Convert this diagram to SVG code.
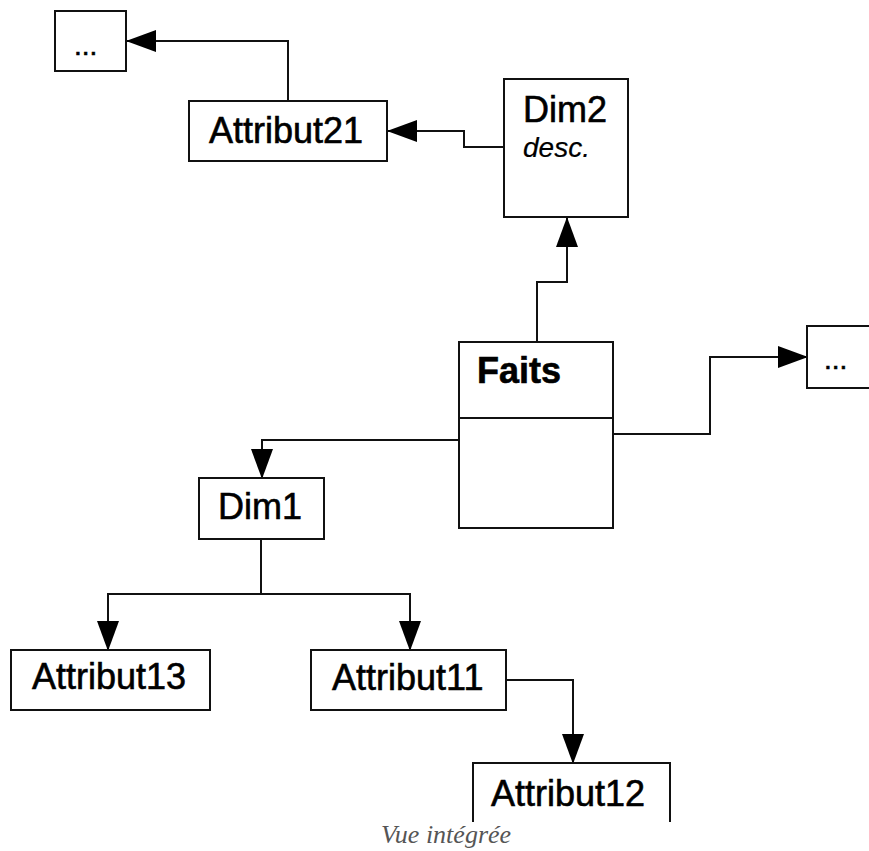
<svg xmlns="http://www.w3.org/2000/svg" width="869" height="851" viewBox="0 0 869 851">
<style>
.box{fill:#fff;stroke:#111;stroke-width:2}
.lbl{font-family:"Liberation Sans",Arial,sans-serif;font-size:36px;fill:#000;stroke:#000;stroke-width:0.6}
.conn{fill:none;stroke:#111;stroke-width:2;marker-end:url(#arr)}
.cap{font-family:"Liberation Serif","Times New Roman",serif;font-style:italic;font-size:26px;fill:#555}
</style>
<defs>
<marker id="arr" markerUnits="userSpaceOnUse" markerWidth="30" markerHeight="22" refX="29" refY="11" orient="auto">
<path d="M0,0 L30,11 L0,22 z" fill="#000"/>
</marker>
</defs>
<rect width="869" height="851" fill="#fff"/>
<g id="connectors">
<path class="conn" d="M288,101 V41 H127"/>
<path class="conn" d="M504,147 H464 V131 H388"/>
<path class="conn" d="M537,342 V282 H567 V218"/>
<path class="conn" d="M613,434 H710 V357 H807"/>
<path class="conn" d="M459,440 H262 V478"/>
<path class="conn" d="M261,539 V594 H108 V650"/>
<path class="conn" d="M261,594 H410 V650"/>
<path class="conn" d="M506,680 H573 V763"/>
</g>
<g id="etc1"><rect class="box" x="55" y="11" width="71" height="60"/><text class="lbl" x="74" y="55" style="font-size:28px">...</text></g>
<g id="attribut21"><rect class="box" x="189" y="101" width="198" height="60"/><text class="lbl" x="209" y="143">Attribut21</text></g>
<g id="dim2"><rect class="box" x="504" y="79" width="124" height="138"/><text class="lbl" x="523" y="122">Dim2</text><text class="lbl" x="523" y="157" style="font-size:28px;font-style:italic;stroke-width:0.2">desc.</text></g>
<g id="faits"><rect class="box" x="459" y="342" width="154" height="186"/><line x1="459" y1="418" x2="613" y2="418" stroke="#111" stroke-width="2"/><text class="lbl" x="477" y="383" style="font-weight:bold">Faits</text></g>
<g id="etc2"><rect class="box" x="807" y="326" width="80" height="62"/><text class="lbl" x="824" y="369" style="font-size:28px">...</text></g>
<g id="dim1"><rect class="box" x="199" y="478" width="125" height="61"/><text class="lbl" x="218" y="519">Dim1</text></g>
<g id="attribut13"><rect class="box" x="11" y="650" width="199" height="60"/><text class="lbl" x="32" y="689">Attribut13</text></g>
<g id="attribut11"><rect class="box" x="311" y="650" width="195" height="60"/><text class="lbl" x="332" y="690">Attribut11</text></g>
<g id="attribut12"><path d="M473,822 V763 H670 V822" class="box" style="fill:#fff"/><text class="lbl" x="491" y="806">Attribut12</text></g>
<text class="cap" x="446" y="843" text-anchor="middle">Vue intégrée</text>
</svg>
